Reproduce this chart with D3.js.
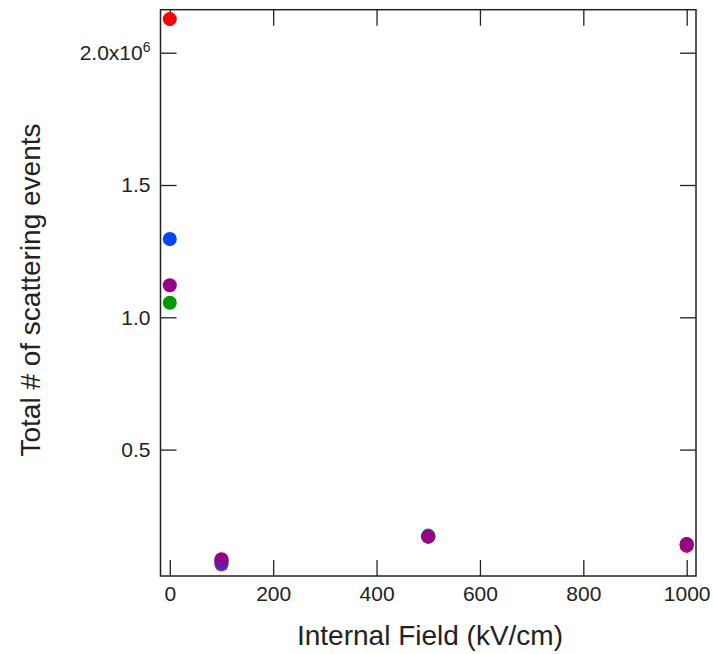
<!DOCTYPE html>
<html>
<head>
<meta charset="utf-8">
<script src="https://cdn.jsdelivr.net/npm/d3@7"></script>
<style>
  body { margin: 0; background: #fff; }
  text { font-family: "Liberation Sans", Arial, sans-serif; fill: #222; }
</style>
</head>
<body>
<div id="chart"></div>
<script>
// data
const fields = [0, 100, 500, 1000];
const redVals = [2.127e6, 0.0665e6, 0.171e6, 0.136e6];
const greenVals = [1.055e6, 0.080e6, 0.175e6, 0.142e6];
const blueVals = [1.296e6, 0.074e6, 0.172e6, 0.141e6];
const purpleVals = [1.121e6, 0.0854e6, 0.171e6, 0.143e6];
const xTicks = [0, 200, 400, 600, 800, 1000];
const yTicks = [0.5e6, 1.0e6, 1.5e6, 2.0e6];

const seriesList = [
  { name: "red", values: redVals, color: "#ff0000" },
  { name: "green", values: greenVals, color: "#009a00" },
  { name: "blue", values: blueVals, color: "#0044ff" },
  { name: "purple", values: purpleVals, color: "#990088" }
];

const width = 713;
const height = 654;
const mLeft = 160.5, mRight = 696, mTop = 9.7, mBottom = 576;
const tickLen = 16;

const svg = d3.select("#chart").append("svg")
  .attr("width", width).attr("height", height);

// scales
const x = d3.scaleLinear().domain([-18, 1018]).range([mLeft, mRight]);
const y = d3.scaleLinear().domain([22300, 2.1625e6]).range([mBottom, mTop]);

// axes, ticks pointing inward on all four sides
svg.append("g")
  .attr("transform", "translate(0," + mBottom + ")")
  .call(d3.axisBottom(x).tickValues(xTicks).tickSizeInner(-tickLen).tickSizeOuter(0).tickPadding(10).tickFormat(d3.format("d")))
  .call(g => g.select(".domain").remove())
  .call(g => g.selectAll(".tick line").attr("stroke", "#222").attr("stroke-width", 1.3))
  .call(g => g.selectAll(".tick text").attr("font-size", 21).style("font-family", "Liberation Sans, Arial, sans-serif"));

svg.append("g")
  .attr("transform", "translate(0," + mTop + ")")
  .call(d3.axisTop(x).tickValues(xTicks).tickSizeInner(-tickLen).tickSizeOuter(0).tickFormat(""))
  .call(g => g.select(".domain").remove())
  .call(g => g.selectAll(".tick line").attr("stroke", "#222").attr("stroke-width", 1.3));

const yAxis = svg.append("g")
  .attr("transform", "translate(" + mLeft + ",0)")
  .call(d3.axisLeft(y).tickValues(yTicks).tickSizeInner(-tickLen).tickSizeOuter(0).tickPadding(10)
    .tickFormat(d => d === 2.0e6 ? "" : d3.format(".1f")(d / 1e6)))
  .call(g => g.select(".domain").remove())
  .call(g => g.selectAll(".tick line").attr("stroke", "#222").attr("stroke-width", 1.3))
  .call(g => g.selectAll(".tick text").attr("font-size", 21).style("font-family", "Liberation Sans, Arial, sans-serif"));

// the 2.0x10^6 label with superscript
yAxis.selectAll(".tick").filter(d => d === 2.0e6).select("text")
  .call(t => {
    t.append("tspan").text("2.0x10");
    t.append("tspan").attr("dy", "-0.55em").attr("font-size", 14).text("6");
  });

svg.append("g")
  .attr("transform", "translate(" + mRight + ",0)")
  .call(d3.axisRight(y).tickValues(yTicks).tickSizeInner(-tickLen).tickSizeOuter(0).tickFormat(""))
  .call(g => g.select(".domain").remove())
  .call(g => g.selectAll(".tick line").attr("stroke", "#222").attr("stroke-width", 1.3));

// frame
svg.append("rect")
  .attr("x", mLeft).attr("y", mTop)
  .attr("width", mRight - mLeft).attr("height", mBottom - mTop)
  .attr("fill", "none").attr("stroke", "#222").attr("stroke-width", 1.5);

// points
seriesList.forEach(s => {
  svg.append("g")
    .selectAll("circle")
    .data(fields.map((f, i) => ({ f: f, v: s.values[i] })))
    .enter()
    .append("circle")
    .attr("cx", d => x(d.f))
    .attr("cy", d => y(d.v))
    .attr("r", 7)
    .attr("fill", s.color);
});

// axis titles
svg.append("text")
  .attr("x", 430).attr("y", 645)
  .attr("text-anchor", "middle")
  .attr("font-size", 28)
  .text("Internal Field (kV/cm)");

svg.append("text")
  .attr("transform", "translate(40,290) rotate(-90)")
  .attr("text-anchor", "middle")
  .attr("font-size", 28)
  .text("Total # of scattering events");
</script>
</body>
</html>
